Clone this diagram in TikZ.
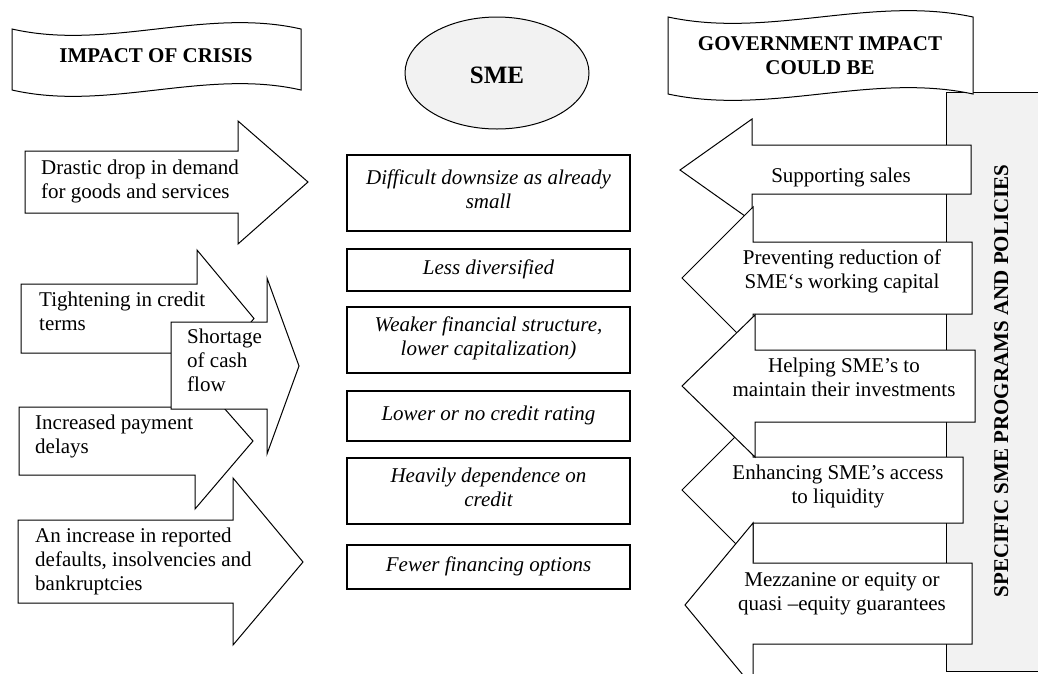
\documentclass[tikz,border=0pt]{standalone}
\usepackage{fontspec}
\setmainfont{Liberation Serif}
\usetikzlibrary{shapes.geometric}
\definecolor{panelgray}{RGB}{242,242,242}
\newcommand{\bodyfs}{\fontsize{21}{24}\selectfont}
\newcommand{\smefs}{\fontsize{25}{29}\selectfont}
\begin{document}
\begin{tikzpicture}[x=1pt,y=-1pt,
  arrowshape/.style={draw=black, fill=white, line width=1pt},
  banner/.style={draw=black, fill=white, line width=1pt},
  lbl/.style={font=\bodyfs, inner sep=0pt, execute at begin node=\strut, execute at end node=\strut},
  ltxt/.style={lbl, align=left, anchor=west},
  ctxt/.style={lbl, align=center},
  head/.style={lbl, align=center, font=\bodyfs\bfseries},
  smebox/.style={draw=black, line width=1.3pt, minimum width=283pt, inner sep=0pt,
    font=\bodyfs\itshape, align=center, execute at begin node=\strut, execute at end node=\strut}
]
\useasboundingbox (0,0) rectangle (1038,673);
\clip (0,0) rectangle (1038,673);

% grey panel on the right (runs off the right edge)
\fill[panelgray] (946,92) rectangle (1060,671);
\draw[line width=1pt] (1060,92) -- (946,92) -- (946,671) -- (1060,671);

% banners
\draw[banner] (12,29) .. controls (108,51) and (205,7) .. (301,29) -- (301,90)
  .. controls (205,68) and (108,112) .. (12,90) -- cycle;
\draw[banner] (668,17) .. controls (770,39) and (871,-5) .. (973,17) -- (973,94)
  .. controls (871,72) and (770,116) .. (668,94) -- cycle;
\node[head] (crisis) at (156,57.2) {IMPACT OF CRISIS};
\node[head] (gov) at (820,59.2) {GOVERNMENT IMPACT\\COULD BE};

% SME ellipse
\node[ellipse, draw=black, fill=panelgray, line width=1pt, minimum width=184pt, minimum height=112pt,
  inner sep=0pt, font=\smefs\bfseries, text height=24pt, text depth=4pt] (sme) at (497,73) {SME};

% left arrows (pointing right)
\draw[arrowshape] (25,151) -- (238,151) -- (238,121) -- (308,182) -- (238,244) -- (238,213) -- (25,213) -- cycle;
\draw[arrowshape] (21,284) -- (197,284) -- (197,250) -- (254,318.5) -- (197,387) -- (197,353) -- (21,353) -- cycle;
\draw[arrowshape] (19,407) -- (195,407) -- (195,375) -- (253,441) -- (195,509) -- (195,475) -- (19,475) -- cycle;
\draw[arrowshape] (171,322) -- (267,322) -- (267,278) -- (299,366) -- (267,454) -- (267,409) -- (171,409) -- cycle;
\draw[arrowshape] (18,520) -- (233,520) -- (233,478) -- (303,562) -- (233,645) -- (233,603) -- (18,603) -- cycle;

\node[ltxt] (drop) at (41,182.7) {Drastic drop in demand\\for goods and services};
\node[ltxt] (tight) at (39,315.2) {Tightening in credit\\terms};
\node[ltxt] (cash) at (187,364.2) {Shortage\\of cash\\flow};
\node[ltxt] (delay) at (35,437.7) {Increased payment\\delays};
\node[ltxt] (defaults) at (35,562.7) {An increase in reported\\defaults, insolvencies and\\bankruptcies};

% middle boxes
\node[smebox, minimum height=76pt] (m1) at (488.5,193) {Difficult downsize as already\\small};
\node[smebox, minimum height=42pt] (m2) at (488.5,270) {Less diversified};
\node[smebox, minimum height=66pt] (m3) at (488.5,340) {Weaker financial structure,\\lower capitalization)};
\node[smebox, minimum height=50pt] (m4) at (488.5,416) {Lower or no credit rating};
\node[smebox, minimum height=66pt] (m5) at (488.5,491) {Heavily dependence on\\credit};
\node[smebox, minimum height=44pt] (m6) at (488.5,567) {Fewer financing options};

% right arrows (pointing left)
\draw[arrowshape] (971,145) -- (752,145) -- (752,119) -- (680,170) -- (752,221) -- (752,194) -- (971,194) -- cycle;
\draw[arrowshape] (972,242) -- (753,242) -- (753,207) -- (682,278) -- (753,349) -- (753,314) -- (972,314) -- cycle;
\draw[arrowshape] (963,457) -- (753,457) -- (753,419) -- (682,490) -- (753,561) -- (753,523) -- (963,523) -- cycle;
\draw[arrowshape] (975,350) -- (755,350) -- (755,315) -- (682,386) -- (755,457) -- (755,422) -- (975,422) -- cycle;
\draw[arrowshape] (972,563) -- (753,563) -- (753,523) -- (685,605) -- (753,687) -- (753,644) -- (972,644) -- cycle;

\node[ctxt] (sales) at (841,177.2) {Supporting sales};
\node[ctxt] (capital) at (842,272.7) {Preventing reduction of\\SME‘s working capital};
\node[ctxt] (invest) at (844,380.7) {Helping SME’s to\\maintain their investments};
\node[ctxt] (liquid) at (838,487.7) {Enhancing SME’s access\\to liquidity};
\node[ctxt] (mezz) at (842,595.2) {Mezzanine or equity or\\quasi –equity guarantees};

\node[head, rotate=90] (programs) at (1003.2,381) {SPECIFIC SME PROGRAMS AND POLICIES};
\end{tikzpicture}
\end{document}
